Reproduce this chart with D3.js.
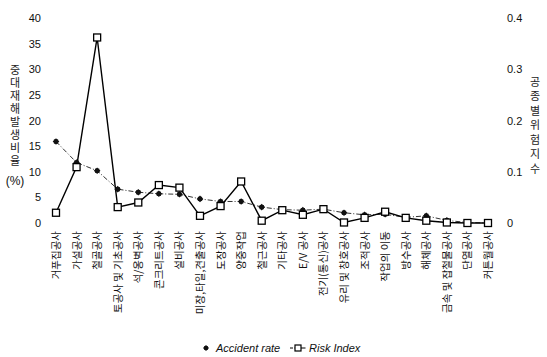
<!DOCTYPE html>
<html><head><meta charset="utf-8">
<script src="https://cdn.jsdelivr.net/npm/d3@7"></script>
<style>body{margin:0;background:#fff}svg{display:block}</style>
</head><body>
<script>
const categories = ["거푸집공사","가설공사","철골공사","토공사 및 기초공사","석/옹벽공사","콘크리트공사","설비공사","미장,타일,견출공사","도장공사","양중작업","철근공사","기타공사","E/V 공사","전기(통신)공사","유리 및 창호공사","조적공사","작업의 이동","방수공사","해체공사","금속 및 잡철물공사","단열공사","커튼월공사"];
const accidentRate = [15.9,11.8,10.2,6.6,6.0,5.7,5.6,4.7,4.2,4.2,3.1,2.6,2.5,2.7,2.0,1.6,1.7,1.1,1.4,0.5,0.1,0];
const riskIndex = [0.02,0.109,0.362,0.031,0.040,0.074,0.069,0.014,0.033,0.081,0.0045,0.025,0.016,0.027,0.001,0.010,0.022,0.010,0.0045,0.001,0,0];
const leftTicks = [0,5,10,15,20,25,30,35,40];
const rightTicks = [0,0.1,0.2,0.3,0.4];
const leftTitle = "중대재해발생비율";
const rightTitle = "공종별위험지수";

const W=547,H=357;
const svg=d3.select("body").append("svg").attr("width",W).attr("height",H)
  .style("font-family","'Liberation Sans', Arial, sans-serif");
const x=d3.scalePoint().domain(categories).range([56,488]);
const yL=d3.scaleLinear().domain([0,40]).range([223,18]);
const yR=d3.scaleLinear().domain([0,0.4]).range([223,18]);

// left tick labels
const lAxis=d3.axisLeft(yL).tickValues(leftTicks).tickSize(0).tickPadding(0);
const gl=svg.append("g").attr("transform","translate(41,0)").call(lAxis);
gl.select(".domain").remove();
gl.selectAll("text").attr("font-size",11).attr("fill","#111").attr("font-family","'Liberation Sans', Arial, sans-serif");
const rAxis=d3.axisRight(yR).tickValues(rightTicks).tickFormat(d=>d===0?"0":d3.format(".1f")(d)).tickSize(0).tickPadding(0);
const gr=svg.append("g").attr("transform","translate(507,0)").call(rAxis);
gr.select(".domain").remove();
gr.selectAll("text").attr("font-size",11).attr("fill","#111").attr("font-family","'Liberation Sans', Arial, sans-serif");

// axis titles (stacked upright)
svg.append("text").attr("x",15).attr("y",64)
  .style("writing-mode","vertical-rl").style("text-orientation","upright").style("letter-spacing","2px")
  .attr("font-size",11).attr("fill","#222").attr("font-family","'Noto Sans CJK KR', sans-serif").text(leftTitle);
svg.append("text").attr("x",15).attr("y",185).attr("text-anchor","middle").attr("font-size",12).attr("fill","#111").text("(%)");
svg.append("text").attr("x",535).attr("y",76)
  .style("writing-mode","vertical-rl").style("text-orientation","upright").style("letter-spacing","3.5px")
  .attr("font-size",11).attr("fill","#222").attr("font-family","'Noto Sans CJK KR', sans-serif").text(rightTitle);

// x labels
svg.append("g").selectAll("text").data(categories).join("text")
  .attr("transform",d=>`translate(${x(d)+4},231) rotate(-90)`)
  .attr("text-anchor","end").attr("font-size",10.5).attr("fill","#111")
  .attr("font-family","'Noto Sans CJK KR', sans-serif").text(d=>d);

// accident line
const lineA=d3.line().x((d,i)=>x(categories[i])).y(d=>yL(d));
svg.append("path").attr("d",lineA(accidentRate)).attr("fill","none").attr("stroke","#333")
  .attr("stroke-width",1).attr("stroke-dasharray","5,2,1,2");
// risk line
const lineR=d3.line().x((d,i)=>x(categories[i])).y(d=>yR(d));
svg.append("path").attr("d",lineR(riskIndex)).attr("fill","none").attr("stroke","#000").attr("stroke-width",1.4);

// accident markers
svg.append("g").selectAll("path").data(accidentRate).join("path")
  .attr("d",d3.symbol(d3.symbolSquare,22)())
  .attr("transform",(d,i)=>`translate(${x(categories[i])},${yL(d)}) rotate(45)`)
  .attr("fill","#111");
svg.append("g").selectAll("path").data(accidentRate).join("path")
  .attr("d",d3.symbol(d3.symbolSquare,18)())
  .attr("transform",(d,i)=>`translate(${x(categories[i])},${yL(d)})`)
  .attr("fill","#111");
// risk markers
svg.append("g").selectAll("rect").data(riskIndex).join("rect")
  .attr("x",(d,i)=>x(categories[i])-3.5).attr("y",d=>yR(d)-3.5)
  .attr("width",7).attr("height",7).attr("fill","#fff").attr("stroke","#000").attr("stroke-width",1.3);

// legend
const lg=svg.append("g").attr("font-size",11).attr("font-style","italic").attr("fill","#111");
lg.append("path").attr("d",d3.symbol(d3.symbolSquare,18)()).attr("transform","translate(206,348) rotate(45)").attr("fill","#111");
lg.append("path").attr("d",d3.symbol(d3.symbolSquare,14)()).attr("transform","translate(206,348)").attr("fill","#111");
lg.append("text").attr("x",216).attr("y",352).text("Accident rate");
lg.append("line").attr("x1",290).attr("x2",306).attr("y1",348).attr("y2",348).attr("stroke","#000").attr("stroke-width",1.2).attr("stroke-dasharray","3,1.5,8,0");
lg.append("rect").attr("x",295).attr("y",345).attr("width",6).attr("height",6).attr("fill","#fff").attr("stroke","#000").attr("stroke-width",1.2);
lg.append("text").attr("x",309).attr("y",352).text("Risk Index");
</script>
</body></html>
